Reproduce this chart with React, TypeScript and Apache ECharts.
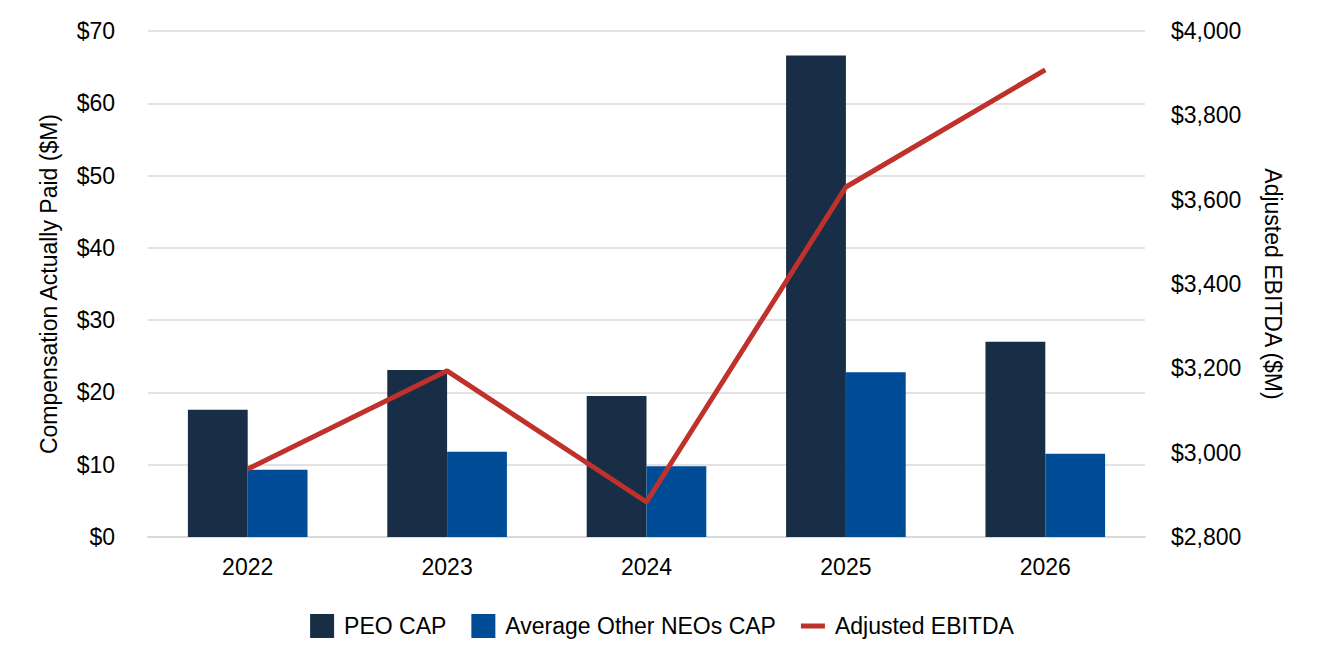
import React, { useEffect, useRef } from "react";
import * as echarts from "echarts";

const years = ["2022", "2023", "2024", "2025", "2026"];
const peoCap = [17.6, 23.1, 19.5, 66.6, 27.0];
const neoCap = [9.3, 11.8, 9.8, 22.8, 11.5];
const ebitda = [2961, 3194, 2883, 3630, 3908];

const FONT = "'Liberation Sans', Arial, sans-serif";
const LINE_ICON = "path://M0,0 M24,24 M0,9.5 L24,9.5 L24,14.5 L0,14.5 Z";

export default function App() {
  const ref = useRef<HTMLDivElement>(null);
  useEffect(() => {
    if (!ref.current) return;
    const chart = echarts.init(ref.current, undefined, { renderer: "svg" });
    const axisText = { color: "#000", fontSize: 23, fontFamily: FONT };
    chart.setOption({
      animation: false,
      textStyle: { fontFamily: FONT },
      grid: { left: 140, right: 171, top: 23, bottom: 127, containLabel: false },
      legend: {
        top: 601,
        left: "center",
        itemWidth: 24,
        itemHeight: 24,
        itemGap: 25,
        textStyle: { ...axisText, padding: [0, 0, 0, 5] },
        data: [
          { name: "PEO CAP", icon: "rect" },
          { name: "Average Other NEOs CAP", icon: "rect" },
          { name: "Adjusted EBITDA", icon: LINE_ICON },
        ],
      },
      xAxis: {
        type: "category",
        data: years,
        axisLine: { show: true, lineStyle: { color: "#d9d9d9", width: 2 } },
        axisTick: { show: false },
        axisLabel: { ...axisText, margin: 18 },
      },
      yAxis: [
        {
          type: "value",
          min: 0,
          max: 70,
          interval: 10,
          name: "Compensation Actually Paid ($M)",
          nameLocation: "middle",
          nameGap: 88,
          nameTextStyle: axisText,
          axisLine: { show: false },
          axisTick: { show: false },
          axisLabel: { ...axisText, margin: 33, formatter: (v: number) => "$" + v },
          splitLine: { lineStyle: { color: "#e3e3e3", width: 2 } },
        },
        {
          type: "value",
          min: 2800,
          max: 4000,
          interval: 200,
          name: "Adjusted EBITDA ($M)",
          nameLocation: "middle",
          nameRotate: -90,
          nameGap: 116,
          nameTextStyle: axisText,
          axisLine: { show: false },
          axisTick: { show: false },
          axisLabel: {
            ...axisText,
            margin: 26,
            formatter: (v: number) => "$" + v.toLocaleString("en-US"),
          },
          splitLine: { show: false },
        },
      ],
      series: [
        {
          name: "PEO CAP",
          type: "bar",
          data: peoCap,
          barWidth: "30%",
          barGap: "0%",
          itemStyle: { color: "#172e46" },
        },
        {
          name: "Average Other NEOs CAP",
          type: "bar",
          data: neoCap,
          barWidth: "30%",
          itemStyle: { color: "#004c97" },
        },
        {
          name: "Adjusted EBITDA",
          type: "line",
          yAxisIndex: 1,
          data: ebitda,
          symbol: "none",
          showSymbol: false,
          lineStyle: { color: "#c0312b", width: 5 },
          itemStyle: { color: "#c0312b" },
        },
      ],
    });
    return () => chart.dispose();
  }, []);
  return <div ref={ref} style={{ width: 1308, height: 656 }} />;
}
